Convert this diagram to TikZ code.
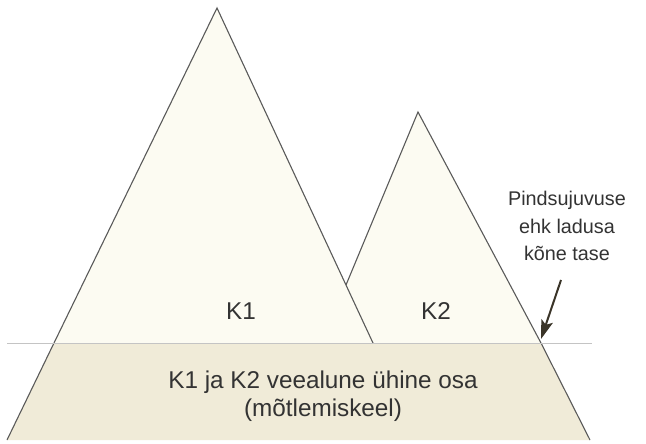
\documentclass[tikz,border=0pt]{standalone}
\usepackage{fontspec}
\setmainfont{Liberation Sans}
\usetikzlibrary{arrows.meta}
\definecolor{toplight}{HTML}{FCFBF2}
\definecolor{bottomfill}{HTML}{F0EBD8}
\definecolor{edgegray}{HTML}{5A5A5A}
\definecolor{waterline}{HTML}{C4C4C4}
\definecolor{arrowdark}{HTML}{3A3428}
\definecolor{textgray}{HTML}{333333}
\tikzset{
  edge/.style={draw=edgegray, line width=1.1pt, line join=miter},
  lbl/.style={font=\fontsize{24.3}{27.5}\selectfont, text=textgray, align=center, inner sep=0pt},
  smalllbl/.style={font=\fontsize{19.8}{27.5}\selectfont, text=textgray, align=center, inner sep=0pt},
}
\begin{document}
\begin{tikzpicture}[x=1pt,y=-1pt]
\useasboundingbox (0,0) rectangle (646,444);
% coordinates
\coordinate (A1) at (217,8);
\coordinate (L1) at (54,343);
\coordinate (R1) at (373,343);
\coordinate (A2) at (418,112);
\coordinate (J) at (346,285);
\coordinate (L2) at (322,343);
\coordinate (R2) at (541,343);
\coordinate (BL) at (7,440);
\coordinate (BR) at (590,440);
% K2 triangle
\fill[toplight] (A2) -- (R2) -- (L2) -- cycle;
\draw[edge] (J) -- (A2) -- (R2);
% K1 triangle
\fill[toplight] (L1) -- (A1) -- (R1) -- cycle;
\draw[edge] (L1) -- (A1) -- (R1);
% bottom part
\fill[bottomfill] (L1) -- (R2) -- (BR) -- (BL) -- cycle;
\draw[edge] (L1) -- (BL);
\draw[edge] (R2) -- (BR);
% water line
\coordinate (W1) at (7,343);
\coordinate (W2) at (592,343);
\draw[waterline, line width=0.8pt] (W1) -- (W2);
% labels
\node[lbl] (k1) at (241,311) {K1};
\node[lbl] (k2) at (436,311) {K2};
\node[lbl] (common) at (323,396) {K1 ja K2 veealune ühine osa\\(mõtlemiskeel)};
\node[smalllbl] (level) at (567,226) {Pindsujuvuse\\ehk ladusa\\kõne tase};
% arrow
\coordinate (arrS) at (561,280);
\coordinate (arrE) at (541,339);
\draw[arrowdark, line width=2pt, -{Stealth[length=19pt,width=12pt,inset=4pt]}] (arrS) -- (arrE);
\end{tikzpicture}
\end{document}
